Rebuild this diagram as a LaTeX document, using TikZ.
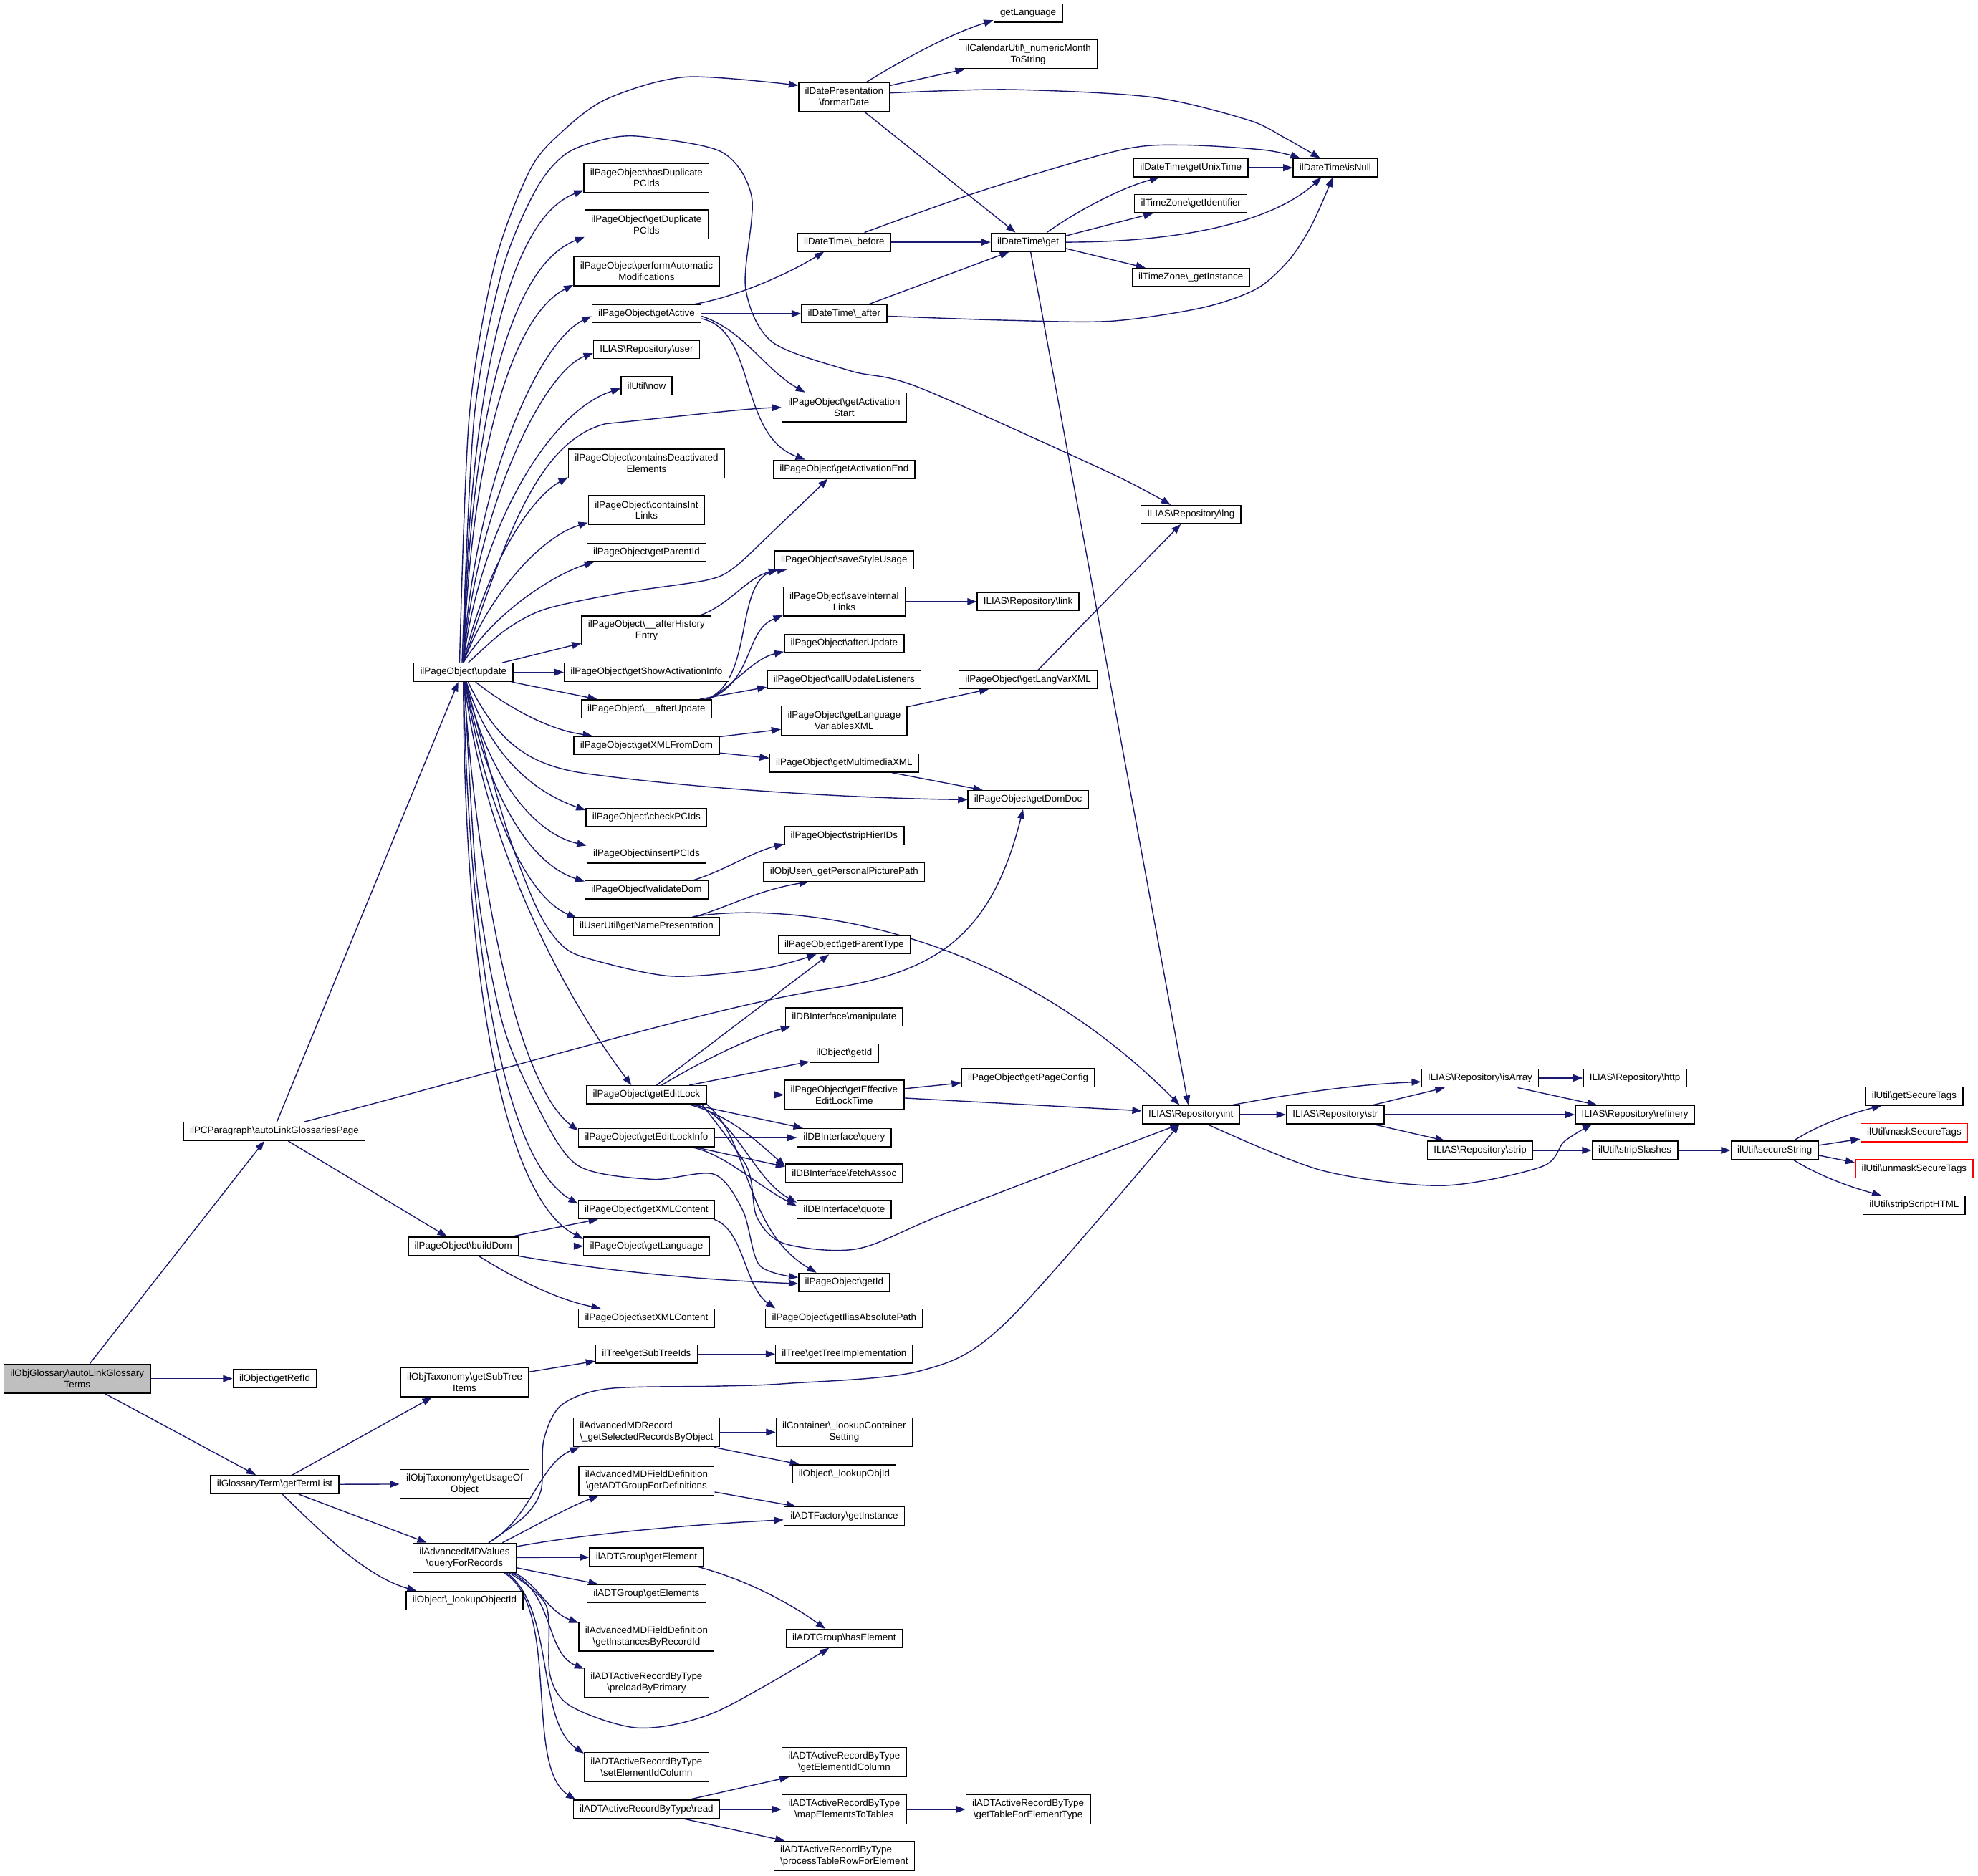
\documentclass[tikz,border=0pt]{standalone}
\usepackage{fontspec}
\setmainfont{Liberation Sans}
\usetikzlibrary{arrows.meta}
\definecolor{edgeblue}{HTML}{191970}
\definecolor{rootgray}{HTML}{BFBFBF}
\newcommand{\dxbs}{\textbackslash}
\pgfdeclarelayer{bglayer}
\pgfdeclarelayer{edgelayer}
\pgfsetlayers{bglayer,edgelayer,main}
\begin{document}
\begin{tikzpicture}[x=1pt,y=-1pt,
  fn/.style={draw=black, line width=0.8pt, fill=white, font=\fontsize{7.6}{9}\selectfont, inner xsep=5pt, inner ysep=0pt, minimum height=14.5pt, align=center},
  fnn/.style={fn, minimum height=23pt},
  fnl/.style={fnn, align=left},
  rootnode/.style={fill=rootgray},
  redbox/.style={draw=red},
  ce/.style={draw=edgeblue, line width=0.8pt, -{Triangle[length=7.5pt,width=5.5pt]}}
]
\useasboundingbox (0,0) rectangle (1568,1487);
\begin{pgfonlayer}{bglayer}
\fill[white] (0,0) rectangle (1568,1487);
\end{pgfonlayer}

% ---- columns A-C
\node[fnn,rootnode] (glossary) at (61.2,1093) {ilObjGlossary\dxbs{}autoLinkGlossary\\Terms};
\node[fn] (pcpar) at (217.5,897) {ilPCParagraph\dxbs{}autoLinkGlossariesPage};
\node[fn] (refid) at (217.8,1093) {ilObject\dxbs{}getRefId};
\node[fn] (termlist) at (217.8,1177) {ilGlossaryTerm\dxbs{}getTermList};
\node[fn] (update) at (367.3,533) {ilPageObject\dxbs{}update};
\node[fn] (builddom) at (367.3,988) {ilPageObject\dxbs{}buildDom};
\node[fnn] (subtreeitems) at (368.3,1096) {ilObjTaxonomy\dxbs{}getSubTree\\Items};
\node[fnn] (usageof) at (368.3,1176.5) {ilObjTaxonomy\dxbs{}getUsageOf\\Object};
\node[fnn] (qfr) at (368.3,1235) {ilAdvancedMDValues\\\dxbs{}queryForRecords};
\node[fn] (lookupobjectid) at (368.3,1269) {ilObject\dxbs{}\_lookupObjectId};

% ---- column D
\node[fnn] (hasdup) at (512.5,141) {ilPageObject\dxbs{}hasDuplicate\\PCIds};
\node[fnn] (getdup) at (512.5,178) {ilPageObject\dxbs{}getDuplicate\\PCIds};
\node[fnn] (perfauto) at (512.5,215) {ilPageObject\dxbs{}performAutomatic\\Modifications};
\node[fn] (getactive) at (512.5,248.7) {ilPageObject\dxbs{}getActive};
\node[fn] (repuser) at (512.5,277) {ILIAS\dxbs{}Repository\dxbs{}user};
\node[fn] (now) at (512.5,306) {ilUtil\dxbs{}now};
\node[fnn] (containsdeact) at (512.5,367.5) {ilPageObject\dxbs{}containsDeactivated\\Elements};
\node[fnn] (containsint) at (512.5,404.5) {ilPageObject\dxbs{}containsInt\\Links};
\node[fn] (parentid) at (512.5,438) {ilPageObject\dxbs{}getParentId};
\node[fnn] (afterhist) at (512.5,500) {ilPageObject\dxbs{}\_\_afterHistory\\Entry};
\node[fn] (showact) at (512.5,533) {ilPageObject\dxbs{}getShowActivationInfo};
\node[fn] (afterupd2) at (512.5,562) {ilPageObject\dxbs{}\_\_afterUpdate};
\node[fn] (xmlfromdom) at (512.5,591) {ilPageObject\dxbs{}getXMLFromDom};
\node[fn] (checkpc) at (512.5,648) {ilPageObject\dxbs{}checkPCIds};
\node[fn] (insertpc) at (512.5,677) {ilPageObject\dxbs{}insertPCIds};
\node[fn] (validatedom) at (512.5,705.5) {ilPageObject\dxbs{}validateDom};
\node[fn] (namepres) at (512.5,734.5) {ilUserUtil\dxbs{}getNamePresentation};
\node[fn] (editlock) at (512.5,868) {ilPageObject\dxbs{}getEditLock};
\node[fn] (editlockinfo) at (512.5,902) {ilPageObject\dxbs{}getEditLockInfo};
\node[fn] (xmlcontent) at (512.5,959) {ilPageObject\dxbs{}getXMLContent};
\node[fn] (getlanguage) at (512.5,988) {ilPageObject\dxbs{}getLanguage};
\node[fn] (setxml) at (512.5,1045) {ilPageObject\dxbs{}setXMLContent};
\node[fn] (subtreeids) at (512.5,1073.5) {ilTree\dxbs{}getSubTreeIds};
\node[fnl] (selrecords) at (512.5,1135.5) {ilAdvancedMDRecord\\\dxbs{}\_getSelectedRecordsByObject};
\node[fnn] (getadtgroup) at (512.5,1174) {ilAdvancedMDFieldDefinition\\\dxbs{}getADTGroupForDefinitions};
\node[fn] (getelement) at (512.5,1234.5) {ilADTGroup\dxbs{}getElement};
\node[fn] (getelements) at (512.5,1263.6) {ilADTGroup\dxbs{}getElements};
\node[fnn] (instbyrecord) at (512.5,1297.5) {ilAdvancedMDFieldDefinition\\\dxbs{}getInstancesByRecordId};
\node[fnn] (preload) at (512.5,1334) {ilADTActiveRecordByType\\\dxbs{}preloadByPrimary};
\node[fnn] (setelemid) at (512.5,1401) {ilADTActiveRecordByType\\\dxbs{}setElementIdColumn};
\node[fn] (read) at (512.5,1434.5) {ilADTActiveRecordByType\dxbs{}read};

% ---- column E
\node[fnn] (formatdate) at (669.2,76.7) {ilDatePresentation\\\dxbs{}formatDate};
\node[fn] (before) at (669.2,192) {ilDateTime\dxbs{}\_before};
\node[fn] (after) at (669.2,248.7) {ilDateTime\dxbs{}\_after};
\node[fnn] (actstart) at (669.2,323) {ilPageObject\dxbs{}getActivation\\Start};
\node[fn] (actend) at (669.2,372) {ilPageObject\dxbs{}getActivationEnd};
\node[fn] (stylusage) at (669.2,444) {ilPageObject\dxbs{}saveStyleUsage};
\node[fnn] (saveint) at (669.2,477) {ilPageObject\dxbs{}saveInternal\\Links};
\node[fn] (afterupdate) at (669.2,510) {ilPageObject\dxbs{}afterUpdate};
\node[fn] (callupd) at (669.2,538.7) {ilPageObject\dxbs{}callUpdateListeners};
\node[fnn] (langvars) at (669.2,571.3) {ilPageObject\dxbs{}getLanguage\\VariablesXML};
\node[fn] (multimedia) at (669.2,605) {ilPageObject\dxbs{}getMultimediaXML};
\node[fn] (striphier) at (669.2,662.5) {ilPageObject\dxbs{}stripHierIDs};
\node[fn] (personalpic) at (669.2,691.4) {ilObjUser\dxbs{}\_getPersonalPicturePath};
\node[fn] (parenttype) at (669.2,749) {ilPageObject\dxbs{}getParentType};
\node[fn] (manipulate) at (669.2,806.4) {ilDBInterface\dxbs{}manipulate};
\node[fn] (objgetid) at (669.2,835) {ilObject\dxbs{}getId};
\node[fnn] (effective) at (669.2,868) {ilPageObject\dxbs{}getEffective\\EditLockTime};
\node[fn] (query) at (669.2,902) {ilDBInterface\dxbs{}query};
\node[fn] (fetchassoc) at (669.2,930) {ilDBInterface\dxbs{}fetchAssoc};
\node[fn] (quote) at (669.2,959) {ilDBInterface\dxbs{}quote};
\node[fn] (pogetid) at (669.2,1016.7) {ilPageObject\dxbs{}getId};
\node[fn] (iliaspath) at (669.2,1045) {ilPageObject\dxbs{}getIliasAbsolutePath};
\node[fn] (treeimpl) at (669.2,1073.5) {ilTree\dxbs{}getTreeImplementation};
\node[fnn] (lookupcont) at (669.2,1135.5) {ilContainer\dxbs{}\_lookupContainer\\Setting};
\node[fn] (lookupobjid) at (669.2,1168.6) {ilObject\dxbs{}\_lookupObjId};
\node[fn] (adtfactory) at (669.2,1202) {ilADTFactory\dxbs{}getInstance};
\node[fn] (haselement) at (669.2,1299) {ilADTGroup\dxbs{}hasElement};
\node[fnn] (getelemidcol) at (669.2,1397) {ilADTActiveRecordByType\\\dxbs{}getElementIdColumn};
\node[fnn] (mapelem) at (669.2,1434.5) {ilADTActiveRecordByType\\\dxbs{}mapElementsToTables};
\node[fnl] (processrow) at (669.2,1471.4) {ilADTActiveRecordByType\\\dxbs{}processTableRowForElement};

% ---- column F
\node[fn] (getlang0) at (815,10.4) {getLanguage};
\node[fnn] (calutil) at (815,43) {ilCalendarUtil\dxbs{}\_numericMonth\\ToString};
\node[fn] (dtget) at (815,192) {ilDateTime\dxbs{}get};
\node[fn] (replink) at (815,477) {ILIAS\dxbs{}Repository\dxbs{}link};
\node[fn] (langvarxml) at (815,538.7) {ilPageObject\dxbs{}getLangVarXML};
\node[fn] (domdoc) at (815,634) {ilPageObject\dxbs{}getDomDoc};
\node[fn] (pageconfig) at (815,854.6) {ilPageObject\dxbs{}getPageConfig};
\node[fnn] (adtgettable) at (815,1434.5) {ilADTActiveRecordByType\\\dxbs{}getTableForElementType};

% ---- columns G-L
\node[fn] (unixtime) at (944,133) {ilDateTime\dxbs{}getUnixTime};
\node[fn] (tzident) at (944,161.5) {ilTimeZone\dxbs{}getIdentifier};
\node[fn] (tzinst) at (944,220) {ilTimeZone\dxbs{}\_getInstance};
\node[fn] (lng) at (944,408) {ILIAS\dxbs{}Repository\dxbs{}lng};
\node[fn] (repint) at (944,883.7) {ILIAS\dxbs{}Repository\dxbs{}int};
\node[fn] (isnull) at (1058.5,133) {ilDateTime\dxbs{}isNull};
\node[fn] (repstr) at (1058.5,883.7) {ILIAS\dxbs{}Repository\dxbs{}str};
\node[fn] (isarray) at (1173.3,854.7) {ILIAS\dxbs{}Repository\dxbs{}isArray};
\node[fn] (repstrip) at (1173.3,912) {ILIAS\dxbs{}Repository\dxbs{}strip};
\node[fn] (http) at (1296,854.7) {ILIAS\dxbs{}Repository\dxbs{}http};
\node[fn] (refinery) at (1296,883.7) {ILIAS\dxbs{}Repository\dxbs{}refinery};
\node[fn] (stripslashes) at (1296,912) {ilUtil\dxbs{}stripSlashes};
\node[fn] (securestring) at (1406.8,912) {ilUtil\dxbs{}secureString};
\node[fn] (getsecuretags) at (1517.4,869) {ilUtil\dxbs{}getSecureTags};
\node[fn,redbox] (masksecure) at (1517.4,898) {ilUtil\dxbs{}maskSecureTags};
\node[fn,redbox] (unmasksecure) at (1517.4,926.7) {ilUtil\dxbs{}unmaskSecureTags};
\node[fn] (stripscript) at (1517.4,955.5) {ilUtil\dxbs{}stripScriptHTML};

\begin{pgfonlayer}{edgelayer}
% glossary
\draw[ce] ([xshift=10pt]glossary.north) -- ([xshift=-8pt]pcpar.south);
\draw[ce] (glossary) -- (refid);
\draw[ce] ([xshift=22pt]glossary.south) -- ([xshift=-15pt]termlist.north);
% pcpar
\draw[ce] ([xshift=2pt]pcpar.north) -- ([xshift=-4pt]update.south);
\draw[ce] ([xshift=24pt]pcpar.north) .. controls (420,843) and (560,800) .. (650,785) .. controls (740,772) and (785,745) .. ([xshift=-4pt]domdoc.south);
\draw[ce] ([xshift=11pt]pcpar.south) -- ([xshift=-13pt]builddom.north);
% termlist
\draw[ce] ([xshift=14pt]termlist.north) -- ([xshift=-26pt]subtreeitems.south);
\draw[ce] (termlist) -- (usageof);
\draw[ce] ([xshift=19pt]termlist.south) -- ([xshift=-30pt]qfr.north);
\draw[ce] ([xshift=6pt]termlist.south) .. controls (255,1215) and (290,1250) .. ([xshift=-38pt]lookupobjectid.north);
\draw[ce] (subtreeitems) -- ([yshift=2pt]subtreeids.south west);
\draw[ce] (subtreeids) -- (treeimpl);

% update, upward
\draw[ce] plot[smooth] coordinates {([xshift=-3pt]update.north) (372,330) (392,210) (420,135) (446,104) (482,78) (544,61) ([yshift=9pt]formatdate.west)};
\draw[ce] plot[smooth] coordinates {([xshift=-1pt]update.north) (376,330) (398,215) (425,150) (450,121) (486,109) (515,109) (573,121) (596,157) (591,228) (612,271) (674,294) (728,307) (880,375) ([xshift=-16pt]lng.north)};
\draw[ce] (update.north) .. controls (371,330) and (398,175) .. ([yshift=2pt]hasdup.south west);
\draw[ce] (update.north) .. controls (372,350) and (400,212) .. ([yshift=2pt]getdup.south west);
\draw[ce] (update.north) .. controls (373,370) and (403,252) .. ([yshift=1pt]perfauto.south west);
\draw[ce] (update.north) .. controls (375,390) and (425,272) .. ([yshift=-2pt]getactive.west);
\draw[ce] (update.north) .. controls (377,405) and (430,295) .. ([yshift=-3pt]repuser.west);
\draw[ce] (update.north) .. controls (380,420) and (435,326) .. ([yshift=-2pt]now.west);
\draw[ce] (update.north) .. controls (400,430) and (425,350) .. (480,336) .. controls (540,330) and (590,324) .. (actstart.west);
\draw[ce] (update.north) .. controls (385,450) and (420,395) .. ([yshift=1pt]containsdeact.south west);
\draw[ce] (update.north) .. controls (388,470) and (430,425) .. ([yshift=2pt]containsint.south west);
\draw[ce] (update.north) .. controls (392,485) and (440,455) .. ([xshift=6pt]parentid.south west);
\draw[ce] plot[smooth] coordinates {([xshift=4pt]update.north) (400,500) (432,483) (493,470) (560,460) (582,450) (610,424) ([xshift=-13pt]actend.south)};
\draw[ce] (update) -- ([yshift=2pt]afterhist.south west);
% update, right / downward
\draw[ce] (update) -- (showact);
\draw[ce] (update) -- ([xshift=13pt]afterupd2.north west);
\draw[ce] (update) .. controls (395,555) and (430,578) .. ([xshift=15pt]xmlfromdom.north west);
\draw[ce] (update) .. controls (395,590) and (420,608) .. (470,614) .. controls (560,626) and (680,633) .. (domdoc.west);
\draw[ce] (update) .. controls (385,590) and (415,625) .. ([yshift=-2pt]checkpc.north west);
\draw[ce] (update) .. controls (385,610) and (420,660) .. ([yshift=-1pt]insertpc.north west);
\draw[ce] (update) .. controls (386,630) and (420,685) .. ([yshift=-1pt]validatedom.north west);
\draw[ce] (update) .. controls (387,650) and (420,712) .. ([xshift=3pt,yshift=-1pt]namepres.north west);
\draw[ce] plot[smooth] coordinates {([xshift=2pt]update.south) (401,655) (426,721) (446,750) (470,761) (533,774) (605,768) ([xshift=-22pt]parenttype.south)};
\draw[ce] (update) .. controls (382,660) and (440,780) .. ([xshift=-12pt]editlock.north);
\draw[ce] (update) .. controls (378,700) and (410,860) .. ([yshift=-2pt]editlockinfo.north west);
\draw[ce] (update) .. controls (372,760) and (400,920) .. ([yshift=-3pt]xmlcontent.north west);
\draw[ce] (update) .. controls (368,780) and (400,950) .. ([yshift=-2pt]getlanguage.north west);
\draw[ce] plot[smooth] coordinates {([xshift=1pt]update.south) (378,700) (398,810) (426,877) (458,924) (517,935) (566,931) (589,960) (602,1003) ([yshift=4pt]pogetid.west)};

% getActive
\draw[ce] ([xshift=-5pt]getactive.north east) .. controls (580,236) and (620,220) .. ([xshift=-16pt]before.south);
\draw[ce] (getactive) -- (after);
\draw[ce] ([yshift=-2pt]getactive.east) .. controls (590,262) and (605,292) .. ([xshift=-31pt]actstart.north);
\draw[ce] ([yshift=-4pt]getactive.east) .. controls (600,262) and (585,345) .. ([xshift=-31pt]actend.north);
% history / afterUpdate
\draw[ce] ([xshift=-10pt]afterhist.north east) .. controls (578,480) and (592,458) .. ([xshift=3pt]stylusage.south west);
\draw[ce] ([xshift=-5pt]afterupd2.north east) .. controls (600,540) and (580,455) .. ([xshift=10pt]stylusage.south west);
\draw[ce] ([xshift=-3pt]afterupd2.north east) .. controls (598,540) and (590,500) .. ([yshift=1pt]saveint.south west);
\draw[ce] ([xshift=-2pt]afterupd2.north east) .. controls (585,540) and (598,522) .. ([yshift=1pt]afterupdate.south west);
\draw[ce] (afterupd2) -- ([yshift=-6pt]callupd.west);
\draw[ce] (saveint) -- (replink);
% XML
\draw[ce] (xmlfromdom) -- ([yshift=-7pt]langvars.west);
\draw[ce] (xmlfromdom) -- ([yshift=4pt]multimedia.west);
\draw[ce] ([yshift=-1pt]langvars.north east) -- ([xshift=24pt]langvarxml.south west);
\draw[ce] ([xshift=8pt]langvarxml.north) -- ([xshift=-8pt]lng.south);
\draw[ce] ([xshift=38pt]multimedia.south) -- ([xshift=12pt]domdoc.north west);
\draw[ce] ([xshift=-12pt]validatedom.north east) .. controls (575,690) and (595,676) .. ([yshift=1pt]striphier.south west);
\draw[ce] ([xshift=-20pt]namepres.north east) .. controls (580,718) and (600,706) .. ([xshift=-28pt]personalpic.south);
\draw[ce] ([xshift=-22pt]namepres.north east) .. controls (620,715) and (790,730) .. ([xshift=-9pt]repint.north);
% edit lock
\draw[ce] ([xshift=8pt]editlock.north) -- ([xshift=-12pt]parenttype.south);
\draw[ce] ([xshift=12pt]editlock.north) .. controls (555,842) and (595,822) .. ([xshift=4pt]manipulate.south west);
\draw[ce] ([xshift=34pt]editlock.north) -- ([yshift=1pt]objgetid.south west);
\draw[ce] (editlock) -- (effective);
\draw[ce] ([xshift=-12pt]editlock.south east) -- ([xshift=5pt]query.north west);
\draw[ce] ([xshift=-14pt]editlock.south east) .. controls (580,885) and (600,905) .. ([yshift=-2pt]fetchassoc.north west);
\draw[ce] ([xshift=-8pt]editlock.south east) .. controls (585,890) and (598,935) .. ([yshift=-2pt]quote.north west);
\draw[ce] (editlock.south east) .. controls (595,905) and (590,975) .. ([xshift=-22pt]pogetid.north);
\draw[ce] plot[smooth] coordinates {([xshift=-4pt]editlock.south east) (592,925) (600,965) (622,986) (680,990) (752,961) ([xshift=-9pt]repint.south)};
\draw[ce] (editlockinfo) -- (query);
\draw[ce] ([xshift=-15pt]editlockinfo.south east) -- ([yshift=5pt]fetchassoc.west);
\draw[ce] ([xshift=-18pt]editlockinfo.south east) .. controls (575,915) and (600,940) .. ([yshift=3pt]quote.west);
\draw[ce] (effective) -- ([yshift=-4pt]pageconfig.west);
\draw[ce] (effective) -- ([yshift=3pt]repint.west);
% buildDom
\draw[ce] (builddom) -- ([xshift=16pt]xmlcontent.south west);
\draw[ce] (builddom) -- (getlanguage);
\draw[ce] (builddom) .. controls (480,1008) and (560,1015) .. ([yshift=-1pt]pogetid.west);
\draw[ce] ([xshift=12pt]builddom.south) .. controls (405,1012) and (440,1030) .. ([xshift=18pt]setxml.north west);
\draw[ce] ([xshift=-1pt]xmlcontent.south east) .. controls (590,975) and (590,1020) .. ([xshift=8pt]iliaspath.north west);
% queryForRecords
\draw[ce] plot[smooth] coordinates {([xshift=19pt]qfr.north) (416,1202) (429,1181) (431,1142) (445,1114) (482,1101) (568,1099) (622,1097) (729,1087) (797,1049) ([xshift=-9pt]repint.south)};
\draw[ce] ([xshift=19pt]qfr.north) .. controls (420,1205) and (428,1160) .. ([xshift=5pt]selrecords.south west);
\draw[ce] ([xshift=30pt]qfr.north) .. controls (420,1212) and (450,1195) .. ([xshift=16pt]getadtgroup.south west);
\draw[ce] ([yshift=-3pt]qfr.north east) .. controls (470,1215) and (560,1208) .. ([yshift=-3pt]adtfactory.west);
\draw[ce] (qfr) -- (getelement);
\draw[ce] ([yshift=-8pt]qfr.east) -- ([xshift=9pt]getelements.north west);
\draw[ce] ([xshift=-2pt]qfr.south east) .. controls (425,1255) and (435,1278) .. ([yshift=-1pt]instbyrecord.north west);
\draw[ce] ([xshift=-4pt]qfr.south east) .. controls (440,1265) and (432,1310) .. ([yshift=-1pt]preload.north west);
\draw[ce] plot[smooth] coordinates {([xshift=-6pt]qfr.south east) (433,1273) (436,1328) (453,1353) (507,1370) (568,1357) ([xshift=-12pt]haselement.south)};
\draw[ce] ([xshift=-8pt]qfr.south east) .. controls (440,1275) and (425,1365) .. ([yshift=-1pt]setelemid.north west);
\draw[ce] ([xshift=-10pt]qfr.south east) .. controls (445,1275) and (415,1400) .. ([xshift=2pt]read.north west);
\draw[ce] (selrecords) -- (lookupcont);
\draw[ce] ([xshift=-5pt]selrecords.south east) -- ([xshift=6pt]lookupobjid.north west);
\draw[ce] ([yshift=3pt]getadtgroup.south east) -- ([xshift=10pt]adtfactory.north west);
\draw[ce] ([xshift=-5pt]getelement.south east) .. controls (590,1252) and (625,1270) .. ([xshift=-15pt]haselement.north);
\draw[ce] ([xshift=-25pt]read.north east) -- ([xshift=6pt]getelemidcol.south west);
\draw[ce] (read) -- (mapelem);
\draw[ce] ([xshift=-28pt]read.south east) -- ([xshift=9pt]processrow.north west);
\draw[ce] (mapelem) -- (adtgettable);
% dates
\draw[ce] ([xshift=18pt]formatdate.north) .. controls (715,48) and (750,28) .. ([yshift=2pt]getlang0.south west);
\draw[ce] ([yshift=-3pt]formatdate.north east) -- ([xshift=5pt]calutil.south west);
\draw[ce] plot[smooth] coordinates {([yshift=3pt]formatdate.east) (800,71) (913,77) (989,95) (1018,109) ([xshift=-12pt]isnull.north)};
\draw[ce] ([xshift=16pt]formatdate.south) -- ([xshift=-10pt]dtget.north);
\draw[ce] (before) -- (dtget);
\draw[ce] plot[smooth] coordinates {([xshift=16pt]before.north) (782,150) (888,119) (938,115) (1003,119) ([xshift=-28pt]isnull.north)};
\draw[ce] ([xshift=20pt]after.north) -- ([xshift=-15pt]dtget.south);
\draw[ce] plot[smooth] coordinates {([yshift=-2pt]after.east) (800,254) (881,254.6) (953,244) (996,229) (1022,206) (1040,178) ([xshift=-2pt]isnull.south)};
\draw[ce] ([xshift=-15pt]dtget.north east) .. controls (850,170) and (885,150) .. ([xshift=-25pt]unixtime.south);
\draw[ce] ([yshift=5pt]dtget.east) -- ([xshift=-30pt]tzident.south);
\draw[ce] (dtget.east) .. controls (940,192) and (1010,175) .. ([xshift=-11pt]isnull.south);
\draw[ce] ([yshift=-5pt]dtget.east) -- ([xshift=-36pt]tzinst.north);
\draw[ce] ([xshift=2pt]dtget.south) -- ([xshift=-2pt]repint.north);
\draw[ce] (unixtime) -- (isnull);
% repository
\draw[ce] ([xshift=-6pt]repint.north east) .. controls (1020,868) and (1070,860) .. ([yshift=-3pt]isarray.west);
\draw[ce] (repint) -- (repstr);
\draw[ce] plot[smooth] coordinates {([xshift=13pt]repint.south) (1048,928) (1143,940) (1222,925) (1240,905) ([xshift=-34pt]refinery.south)};
\draw[ce] ([xshift=30pt]repstr.north) -- ([xshift=-28pt]isarray.south);
\draw[ce] (repstr) -- (refinery);
\draw[ce] ([xshift=30pt]repstr.south) -- ([xshift=-28pt]repstrip.north);
\draw[ce] (isarray) -- (http);
\draw[ce] ([xshift=-17pt]isarray.south east) -- ([xshift=-30pt]refinery.north);
\draw[ce] (repstrip) -- (stripslashes);
\draw[ce] (stripslashes) -- (securestring);
\draw[ce] ([xshift=15pt]securestring.north) .. controls (1445,890) and (1470,882) .. ([xshift=-26pt]getsecuretags.south);
\draw[ce] ([yshift=4pt]securestring.east) -- ([yshift=-5pt]masksecure.west);
\draw[ce] ([yshift=-4pt]securestring.east) -- ([yshift=5pt]unmasksecure.west);
\draw[ce] ([xshift=15pt]securestring.south) .. controls (1445,934) and (1470,942) .. ([xshift=-26pt]stripscript.north);
\end{pgfonlayer}
\end{tikzpicture}
\end{document}
